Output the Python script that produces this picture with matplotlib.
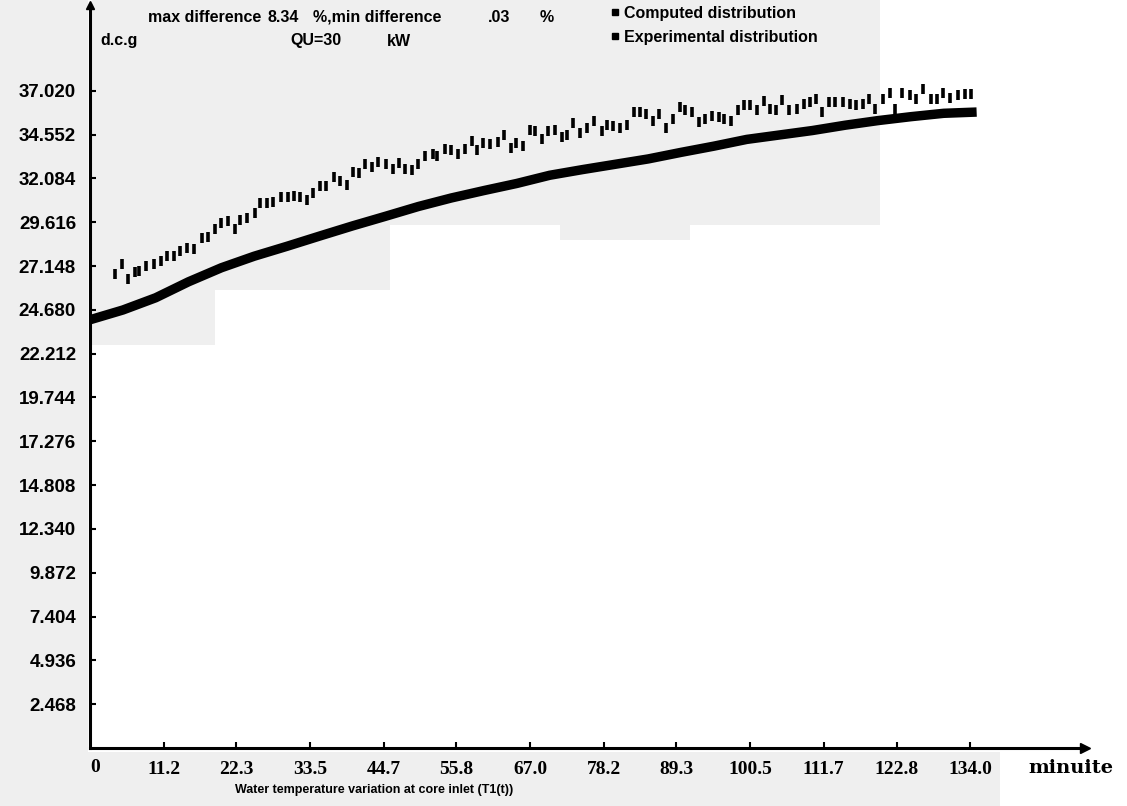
import matplotlib
matplotlib.use('Agg')
import matplotlib.pyplot as plt
from matplotlib.patches import Rectangle
from matplotlib.lines import Line2D

# ---------------- data ----------------
x_tick_values = [11.2, 22.3, 33.5, 44.7, 55.8, 67.0, 78.2, 89.3, 100.5, 111.7, 122.8, 134.0]
x_tick_labels = ['11.2', '22.3', '33.5', '44.7', '55.8', '67.0', '78.2', '89.3',
                 '100.5', '111.7', '122.8', '134.0']
y_tick_values = [2.468, 4.936, 7.404, 9.872, 12.340, 14.808, 17.276, 19.744,
                 22.212, 24.680, 27.148, 29.616, 32.084, 34.552, 37.020]
y_tick_labels = ['2.468', '4.936', '7.404', '9.872', '12.340', '14.808', '17.276', '19.744',
                 '22.212', '24.680', '27.148', '29.616', '32.084', '34.552', '37.020']

computed_time = [0, 5, 10, 15, 20, 25, 30, 35, 40, 45, 50, 55, 60, 65, 70, 75, 80, 85,
                 90, 95, 100, 105, 110, 115, 120, 125, 130, 135]
computed_temp = [24.12, 24.67, 25.36, 26.26, 27.05, 27.70, 28.26, 28.84, 29.41, 29.95,
                 30.50, 30.98, 31.40, 31.80, 32.26, 32.58, 32.88, 33.18, 33.55, 33.90,
                 34.28, 34.53, 34.78, 35.08, 35.34, 35.56, 35.75, 35.82]

exp_time = [3.8, 4.8, 5.8, 6.9, 7.5, 8.6, 9.8, 10.8, 11.8, 12.8,
            13.7, 14.7, 15.8, 17.0, 18.0, 19.0, 20.0, 21.0, 22.1, 22.9,
            23.9, 25.1, 25.9, 26.9, 27.9, 29.1, 30.1, 31.0, 31.9, 33.0,
            34.0, 35.0, 36.0, 37.1, 38.1, 39.1, 40.0, 40.9, 41.9, 42.9,
            43.9, 45.1, 46.1, 47.0, 48.0, 49.0, 50.0, 51.0, 52.2, 52.9,
            54.0, 55.0, 56.1, 57.1, 58.1, 58.9, 59.9, 60.9, 62.1, 63.1,
            64.1, 64.9, 65.9, 67.0, 67.8, 68.8, 69.8, 70.8, 71.9, 72.6,
            73.6, 74.6, 75.7, 76.7, 77.9, 78.7, 79.7, 80.7, 81.8, 82.8,
            83.8, 84.7, 85.7, 86.7, 87.7, 88.8, 89.8, 90.6, 91.7, 92.7,
            93.7, 94.7, 95.7, 96.6, 97.6, 98.6, 99.6, 100.5, 101.5, 102.6,
            103.6, 104.4, 105.4, 106.4, 107.6, 108.7, 109.6, 110.5, 111.5, 112.5,
            113.5, 114.7, 115.7, 116.7, 117.7, 118.6, 119.6, 120.7, 121.8, 122.6,
            123.7, 124.8, 125.8, 126.9, 128.0, 128.9, 129.9, 131.0, 132.1, 133.2,
            134.2]
exp_temp = [26.72, 27.24, 26.44, 26.81, 26.87, 27.13, 27.28, 27.41, 27.70, 27.74,
            27.98, 28.15, 28.11, 28.72, 28.81, 29.22, 29.58, 29.69, 29.22, 29.75,
            29.84, 30.12, 30.68, 30.68, 30.77, 31.05, 31.05, 31.08, 31.05, 30.86,
            31.24, 31.65, 31.65, 32.18, 31.96, 31.71, 32.46, 32.36, 32.88, 32.74,
            33.02, 32.88, 32.60, 32.96, 32.59, 32.55, 32.88, 33.35, 33.48, 33.33,
            33.76, 33.66, 33.48, 33.76, 34.20, 33.66, 34.07, 34.03, 34.16, 34.55,
            33.81, 34.07, 33.90, 34.82, 34.74, 34.31, 34.74, 34.82, 34.41, 34.50,
            35.20, 34.65, 34.91, 35.33, 34.78, 35.09, 35.02, 34.91, 35.09, 35.83,
            35.83, 35.70, 35.33, 35.70, 34.91, 35.43, 36.13, 35.93, 35.83, 35.28,
            35.43, 35.58, 35.52, 35.43, 35.33, 35.95, 36.21, 36.21, 35.95, 36.45,
            35.98, 35.95, 36.50, 35.95, 36.02, 36.30, 36.36, 36.58, 35.83, 36.39,
            36.36, 36.36, 36.30, 36.21, 36.25, 36.54, 36.02, 36.58, 36.88, 35.98,
            36.91, 36.76, 36.54, 37.10, 36.54, 36.58, 36.91, 36.60, 36.78, 36.82,
            36.82]

series_labels = ['Computed distribution', 'Experimental distribution']

# ---------------- figure ----------------
W, H = 1127, 806
fig = plt.figure(figsize=(W / 100, H / 100), dpi=100)
fig.patch.set_facecolor('white')


def fx(px):
    return px / W


def fy(py):
    return 1 - py / H


# light grey patches imitating the scanned halftone background
grey = '#efefef'
for (x0, y0, x1, y1) in [(0, 0, 88, 806), (92, 0, 880, 225), (92, 225, 215, 345),
                         (215, 225, 390, 290), (560, 225, 690, 240), (0, 752, 1000, 806)]:
    fig.patches.append(Rectangle((fx(x0), fy(y1)), (x1 - x0) / W, (y1 - y0) / H,
                                 transform=fig.transFigure, facecolor=grey,
                                 edgecolor='none', zorder=-5))

ax = fig.add_axes([fx(90), fy(748), (1085 - 90) / W, (748 - 5) / H])
ax.set_facecolor('none')
ax.set_xlim(0, 151.5)
ax.set_ylim(0, 41.85)

for s in ['top', 'right']:
    ax.spines[s].set_visible(False)
for s in ['left', 'bottom']:
    ax.spines[s].set_linewidth(2.2)
    ax.spines[s].set_color('black')

# axis arrow heads
ax.plot(1, 0, marker='>', ms=7, color='k', transform=ax.transAxes, clip_on=False)
ax.plot(0, 1, marker='^', ms=6, color='k', transform=ax.transAxes, clip_on=False)

ax.set_xticks(x_tick_values)
ax.set_xticklabels(x_tick_labels, fontfamily='Liberation Serif', fontweight='bold', fontsize=14)
ax.set_yticks(y_tick_values)
ax.set_yticklabels(y_tick_labels, fontfamily='Liberation Sans', fontweight='bold', fontsize=13.5)
ax.tick_params(axis='both', direction='in', length=4, width=1.5, color='k')
ax.tick_params(axis='x', pad=9)
ax.tick_params(axis='y', pad=10)

# "0" at origin
fig.text(fx(95), fy(768), '0', ha='center', va='center', fontfamily='Liberation Serif',
         fontweight='bold', fontsize=14)

# series
ax.plot(computed_time, computed_temp, color='k', lw=6.8, solid_capstyle='butt',
        solid_joinstyle='round', label=series_labels[0], zorder=3)
ax.plot(exp_time, exp_temp, ls='none', marker='|', ms=6.5, mew=2.6, color='k',
        label=series_labels[1], zorder=3)

# legend (both shown with small black squares as in the original)
handles = [Line2D([], [], ls='none', marker='s', ms=4, color='k'),
           Line2D([], [], ls='none', marker='s', ms=4, color='k')]
fig.legend(handles, series_labels, loc='upper left', bbox_to_anchor=(fx(610), fy(6)),
           frameon=False, handlelength=0.6, handletextpad=0.3, labelspacing=0.55,
           borderpad=0, borderaxespad=0,
           prop={'family': 'Liberation Sans', 'weight': 'bold', 'size': 11.5})

# header texts
hdr = dict(va='center', ha='left', fontfamily='Liberation Sans', fontweight='bold', fontsize=11.5)
fig.text(fx(148), fy(17), 'max difference', **hdr)
fig.text(fx(268), fy(17), '8.34', **hdr)
fig.text(fx(313), fy(17), '%,min difference', **hdr)
fig.text(fx(488), fy(17), '.03', **hdr)
fig.text(fx(540), fy(17), '%', **hdr)
fig.text(fx(100), fy(41), 'd.c.g', **hdr)
fig.text(fx(290), fy(41), 'QU=30', **hdr)
fig.text(fx(387), fy(41), 'kW', **hdr)

# axis captions
fig.text(fx(1028), fy(768), 'minuite', va='center', ha='left', fontfamily='DejaVu Serif',
         fontweight='bold', fontsize=14)
fig.text(fx(235), fy(790), 'Water temperature variation at core inlet (T1(t))', va='center',
         ha='left', fontfamily='Liberation Sans', fontweight='bold', fontsize=9)

fig.savefig('out.png', dpi=100)
